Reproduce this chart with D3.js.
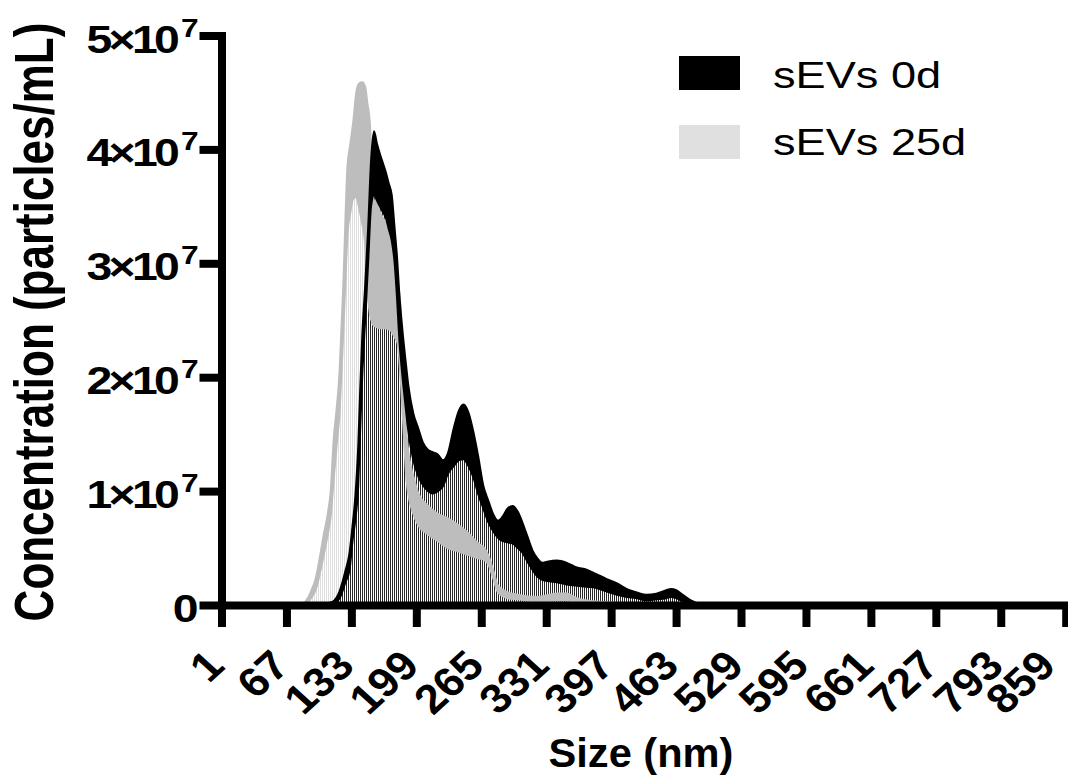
<!DOCTYPE html>
<html>
<head>
<meta charset="utf-8">
<script src="https://cdn.jsdelivr.net/npm/d3@7"></script>
<style>
  body { margin: 0; background: #fff; }
  svg { display: block; }
</style>
</head>
<body>
<svg id="chart" width="1068" height="783"></svg>
<script>
// Particle size distribution (NTA), mean and SD per size bin.
// Concentrations are in units of 10^7 particles/mL.
const seriesNames = ["sEVs 0d", "sEVs 25d"];
const xTicks = [1, 67, 133, 199, 265, 331, 397, 463, 529, 595, 661, 727, 793, 859];
const yTicks = [0, 1, 2, 3, 4, 5];
const yExponent = "7";

const sizes0d = [100, 114, 121, 127, 131, 134, 137, 140, 142, 144, 147, 150, 153, 156, 159, 162, 165, 168, 171, 174,
  177, 179, 182, 185, 188, 191, 196, 201, 206, 211, 216, 221, 226, 231, 237, 242, 247, 252, 257, 262,
  267, 272, 277, 282, 287, 292, 297, 302, 307, 312, 317, 322, 327, 332, 342, 352, 362, 372, 382, 392,
  403, 413, 423, 433, 443, 453, 458, 463, 468, 473, 478, 483, 493];
const mean0d = [0, 0.01, 0.06, 0.20, 0.30, 0.55, 0.75, 1.05, 1.55, 2.00, 2.50, 3.00, 3.50, 3.60, 3.55, 3.50, 3.45, 3.40, 3.30, 3.20,
  3.00, 2.75, 2.30, 2.00, 1.75, 1.52, 1.27, 1.13, 1.05, 1.00, 0.98, 1.00, 1.04, 1.15, 1.22, 1.27, 1.28, 1.22, 1.12, 0.97,
  0.85, 0.73, 0.65, 0.59, 0.56, 0.55, 0.54, 0.50, 0.46, 0.38, 0.31, 0.25, 0.22, 0.21, 0.20, 0.18, 0.17, 0.16, 0.15, 0.12,
  0.09, 0.07, 0.06, 0.04, 0.05, 0.06, 0.07, 0.06, 0.04, 0.02, 0.01, 0.00, 0];
const sd0d = [0, 0.02, 0.06, 0.10, 0.15, 0.13, 0.20, 0.35, 0.35, 0.35, 0.30, 0.30, 0.40, 0.56, 0.50, 0.46, 0.43, 0.40, 0.40, 0.40,
  0.30, 0.35, 0.40, 0.40, 0.40, 0.40, 0.41, 0.42, 0.37, 0.36, 0.36, 0.32, 0.23, 0.18, 0.33, 0.43, 0.48, 0.47, 0.40, 0.33,
  0.20, 0.19, 0.15, 0.15, 0.22, 0.30, 0.33, 0.32, 0.26, 0.22, 0.17, 0.16, 0.15, 0.17, 0.19, 0.19, 0.16, 0.15, 0.12, 0.11,
  0.10, 0.07, 0.05, 0.05, 0.05, 0.07, 0.07, 0.07, 0.06, 0.05, 0.03, 0.02, 0];

const sizes25d = [80, 84, 88, 92, 97, 101, 105, 109, 112, 115, 118, 121, 123, 125, 127, 129, 132, 135, 138, 141,
  144, 147, 149, 152, 154, 156, 159, 162, 165, 168, 171, 174, 177, 180, 183, 186, 189, 192, 196, 201,
  211, 221, 231, 242, 252, 262, 267, 272, 277, 282, 292, 302, 322, 342, 352, 362, 382, 403, 423];
const mean25d = [0, 0, 0.02, 0.06, 0.14, 0.28, 0.44, 0.62, 0.78, 1.10, 1.40, 1.70, 2.05, 2.45, 2.85, 3.25, 3.45, 3.57, 3.58, 3.48,
  3.35, 3.17, 2.80, 2.55, 2.48, 2.45, 2.44, 2.43, 2.43, 2.43, 2.42, 2.40, 2.35, 2.30, 2.00, 1.55, 1.10, 0.92, 0.80, 0.70,
  0.62, 0.56, 0.50, 0.47, 0.44, 0.41, 0.40, 0.36, 0.24, 0.11, 0.06, 0.05, 0.03, 0.04, 0.04, 0.02, 0.01, 0.00, 0];
const sd25d = [0, 0.01, 0.03, 0.06, 0.10, 0.14, 0.18, 0.18, 0.22, 0.35, 0.32, 0.35, 0.40, 0.40, 0.55, 0.60, 0.60, 0.68, 0.92, 1.10,
  1.24, 1.38, 1.62, 1.65, 1.27, 1.10, 1.10, 1.02, 0.97, 0.92, 0.85, 0.75, 0.65, 0.55, 0.60, 0.45, 0.40, 0.36, 0.33, 0.28,
  0.25, 0.24, 0.26, 0.23, 0.19, 0.13, 0.11, 0.08, 0.07, 0.06, 0.05, 0.04, 0.04, 0.06, 0.06, 0.04, 0.02, 0.02, 0];

const FONT = "'Liberation Sans', Arial, Helvetica, sans-serif";
const svg = d3.select("#chart");

const x = d3.scaleLinear().domain([1, 859]).range([221.5, 1065.7]);
const y = d3.scaleLinear().domain([0, 5]).range([605, 35.5]);

const rows = (s, m, e) => s.map((v, i) => ({ size: v, mean: m[i], sd: e[i] }));
const data0d = rows(sizes0d, mean0d, sd0d);
const data25d = rows(sizes25d, mean25d, sd25d);

// striped fills imitating dense thin bars
const defs = svg.append("defs");
function stripes(id, color) {
  const p = defs.append("pattern").attr("id", id)
    .attr("patternUnits", "userSpaceOnUse").attr("width", 2).attr("height", 4);
  p.append("rect").attr("width", 1).attr("height", 4).attr("fill", color);
}
stripes("bars0d", "#262626");
stripes("bars25d", "#dedede");

const barArea = d3.area().curve(d3.curveMonotoneX)
  .x(d => x(d.size)).y0(y(0)).y1(d => y(d.mean));
const bandArea = d3.area().curve(d3.curveMonotoneX)
  .x(d => x(d.size)).y0(d => y(d.mean)).y1(d => y(d.mean + d.sd));

const plot = svg.append("g");
plot.append("path").datum(data25d).attr("d", barArea).attr("fill", "url(#bars25d)");
plot.append("path").datum(data0d).attr("d", barArea).attr("fill", "url(#bars0d)");
plot.append("path").datum(data25d).attr("d", bandArea)
  .attr("fill", "#bdbdbd").attr("stroke", "#bdbdbd").attr("stroke-width", 2).attr("stroke-linejoin", "round");
plot.append("path").datum(data0d).attr("d", bandArea)
  .attr("fill", "#000").attr("stroke", "#000").attr("stroke-width", 2).attr("stroke-linejoin", "round");

// axes
const yAxis = svg.append("g").attr("transform", `translate(${x(1)},0)`)
  .call(d3.axisLeft(y).tickValues(yTicks).tickSize(22).tickSizeOuter(0).tickFormat(""));
const xAxis = svg.append("g").attr("transform", `translate(0,${y(0)})`)
  .call(d3.axisBottom(x).tickValues(xTicks).tickSize(22).tickSizeOuter(0).tickFormat(""));
[yAxis, xAxis].forEach(g => {
  g.select(".domain").attr("stroke", "#000").attr("stroke-width", 8).attr("stroke-linecap", "square");
  g.selectAll(".tick line").attr("stroke", "#000").attr("stroke-width", 8);
});

// y tick labels
const yLab = svg.append("g").attr("font-family", FONT).attr("font-weight", "bold").attr("fill", "#000");
yTicks.forEach(v => {
  const t = yLab.append("text").attr("text-anchor", "end").attr("font-size", 38).attr("letter-spacing", -3)
    .attr("transform", `translate(195,${y(v) + 17}) scale(1.22,1)`);
  if (v === 0) { t.text("0"); return; }
  t.append("tspan").text(`${v}×10`);
  t.append("tspan").attr("font-size", 26).attr("dy", -16).attr("dx", 4).text(yExponent);
});

// x tick labels, rotated
svg.append("g").attr("font-family", FONT).attr("font-weight", "bold")
  .selectAll("text").data(xTicks).join("text")
  .attr("text-anchor", "end").attr("font-size", 41)
  .attr("transform", d => `translate(${Math.min(x(d) + 5, 1058)},668) scale(1.1,1) rotate(-45)`)
  .text(d => d);

// axis titles
svg.append("text").attr("font-family", FONT).attr("font-weight", "bold").attr("font-size", 40)
  .attr("text-anchor", "middle").attr("transform", "translate(641,767) scale(1.04,1)")
  .text("Size (nm)");
svg.append("text").attr("font-family", FONT).attr("font-weight", "bold").attr("font-size", 44)
  .attr("text-anchor", "middle").attr("transform", "translate(53,322) scale(1.26,1) rotate(-90)")
  .text("Concentration (particles/mL)");

// legend
const legendColors = ["#000", "#e0e0e0"];
const lg = svg.append("g");
seriesNames.forEach((name, i) => {
  lg.append("rect").attr("x", 679).attr("y", 56 + i * 69).attr("width", 61).attr("height", 34).attr("fill", legendColors[i]);
  lg.append("text").attr("font-family", FONT).attr("font-size", 37)
    .attr("transform", `translate(773,${88 + i * 67}) scale(1.22,1)`).text(name);
});
</script>
</body>
</html>
